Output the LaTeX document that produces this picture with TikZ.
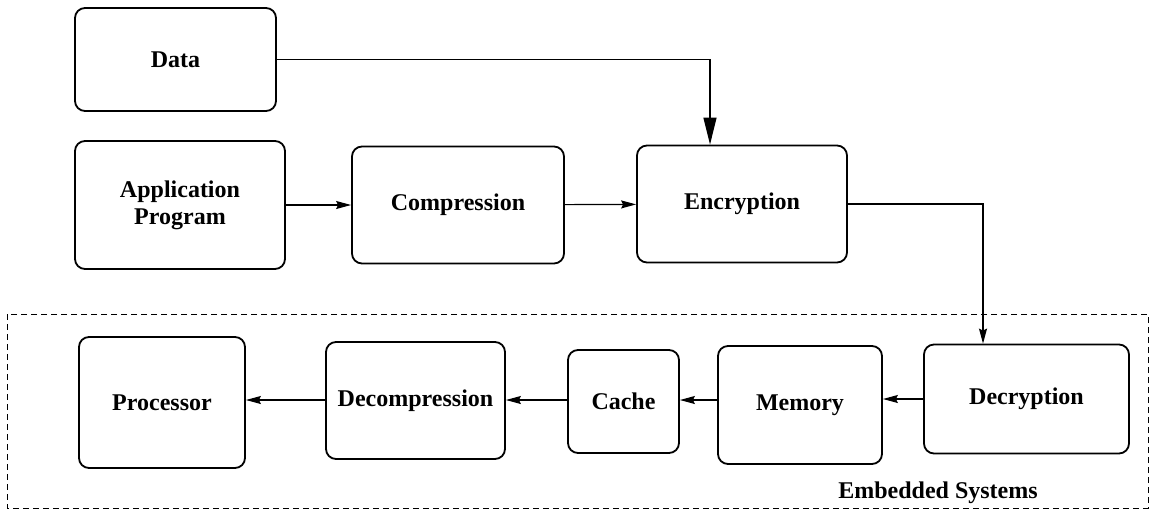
\documentclass[tikz,border=0pt]{standalone}
\usepackage{fontspec}
\setmainfont{Liberation Serif}
\usetikzlibrary{arrows.meta}
\begin{document}
\begin{tikzpicture}[x=0.5pt,y=-0.5pt,
    blk/.style={draw,line width=0.9pt,rounded corners=5pt,inner sep=2pt,align=center,
      font=\bfseries\fontsize{12}{13.5}\selectfont},
    flow/.style={line width=0.6pt,-{Stealth[length=7.5pt,width=4pt,inset=1pt]}},
    bigflow/.style={line width=0.6pt,-{Triangle[length=13.5pt,width=6.5pt]}}]
      \useasboundingbox (0,0) rectangle (1151,510);
      % embedded part
      \draw[line width=0.5pt,dash pattern=on 3pt off 2pt] (7,314) rectangle (1148,508);
      \node[font=\bfseries\fontsize{12}{13.5}\selectfont] (emb) at (938,493) {Embedded Systems};
      % upper row
      \node[blk,minimum width=100.5pt,minimum height=51.5pt] (data) at (175.5,59.5) {Data};
      \node[blk,minimum width=105pt,minimum height=64pt] (app) at (180,205) {Application\\Program};
      \node[blk,minimum width=106pt,minimum height=58.5pt] (comp) at (458,205) {Compression};
      \node[blk,minimum width=105pt,minimum height=58.5pt] (enc) at (742,204) {Encryption};
      % lower row
      \node[blk,minimum width=83pt,minimum height=65.5pt] (proc) at (162,402.5) {Processor};
      \node[blk,minimum width=89.5pt,minimum height=58.5pt] (decomp) at (415.5,400.5) {Decompression};
      \node[blk,minimum width=55.5pt,minimum height=51.5pt] (cache) at (623.5,401.5) {Cache};
      \node[blk,minimum width=82pt,minimum height=59pt] (mem) at (800,405) {Memory};
      \node[blk,minimum width=102.5pt,minimum height=54.5pt] (decr) at (1026.5,399) {Decryption};
      \begin{scope}[flow]
        \draw (app) to (comp);
        \draw (comp) to (enc);
        \draw (enc.east) -| ([xshift=-21.75pt]decr.north);
        \draw (decr.west) -- (decr.west -| mem.east);
        \draw (mem.west |- 0,400) -- (cache.east |- 0,400);
        \draw (cache.west |- 0,400) -- (decomp.east |- 0,400);
        \draw (decomp.west |- 0,400) -- (proc.east |- 0,400);
      \end{scope}
      \draw[bigflow] (data.east) -| ([xshift=-16pt]enc.north);
\end{tikzpicture}
\end{document}
